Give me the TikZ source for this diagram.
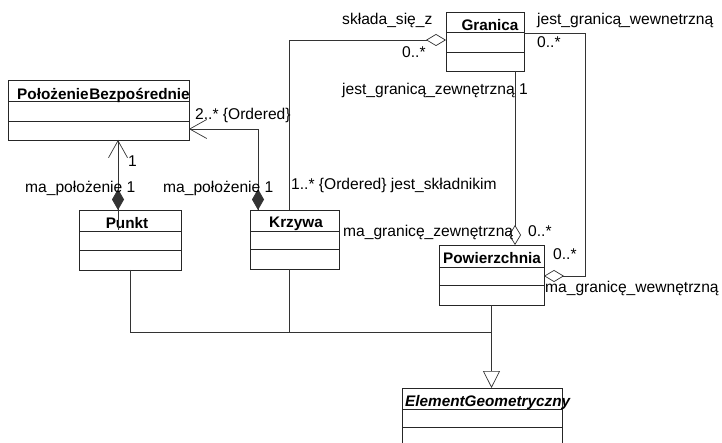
\documentclass[tikz,border=0pt]{standalone}
\usepackage{fontspec}
\setmainfont{Liberation Sans}
\usetikzlibrary{arrows.meta,calc}
\tikzset{
  cls/.style={draw=black!85, line width=0.8pt, inner sep=0pt, outer sep=0pt},
  sep/.style={draw=black!85, line width=0.8pt},
  conn/.style={draw=black!80, line width=0.7pt},
  lbl/.style={font=\fontsize{15.6}{17}\selectfont, inner sep=0pt, anchor=base west},
  ttl/.style={font=\bfseries\fontsize{15.3}{17}\selectfont, inner sep=0pt, anchor=base},
  comp/.style={{Diamond[length=21pt,width=12pt]}-},
  nav/.style={-{Straight Barb[length=17pt,width=19pt,line width=0.7pt]}},
  agg/.style={-{Diamond[open,length=20pt,width=12pt,line width=0.7pt]}},
  gen/.style={-{Triangle[open,length=17pt,width=17pt,line width=0.7pt]}}
}
\newcommand\umlclass[7]{%
  \pgfmathsetmacro\cw{#4-#2}\pgfmathsetmacro\ch{#5-#3}%
  \node[cls, minimum width=\cw pt, minimum height=\ch pt, anchor=north west] (#1) at (#2,#3) {};
  \draw[sep] (#2,#6) -- (#4,#6);
  \draw[sep] (#2,#7) -- (#4,#7);
}
\begin{document}
\begin{tikzpicture}[x=1pt,y=-1pt]
\useasboundingbox (0,0) rectangle (722,443);
% classes
\umlclass{pb}{8}{80}{189}{140}{101}{121}
\umlclass{granica}{446}{12}{524}{71}{32}{52}
\umlclass{punkt}{79}{210}{181}{270}{231}{250}
\umlclass{krzywa}{250}{210}{339}{269}{231}{249}
\umlclass{pow}{439}{245}{544}{305}{267}{285}
\umlclass{eg}{402}{388}{562}{445}{409}{427}
% titles
\node[ttl, anchor=base west] (tpb) at (17,99.5) {Położenie\kern0.8ptBezpośrednie};
\node[ttl] (tgr) at (490,30.5) {Granica};
\node[ttl] (tpu) at (127,228.5) {Punkt};
\node[ttl] (tkr) at (296,228) {Krzywa};
\node[ttl] (tpo) at (492,263.5) {Powierzchnia};
\node[ttl, font=\bfseries\itshape\fontsize{15.3}{17}\selectfont, anchor=base west] (teg) at (405,406) {ElementGeometryczny};
% connectors
\coordinate (pt) at ([xshift=39pt]punkt.north west);
\draw[conn, comp] (pt) -- (pt |- pb.south);
\draw[conn, nav] ([yshift=-20pt]pt) -- (pt |- pb.south);
\coordinate (kt) at ([xshift=8pt]krzywa.north west);
\coordinate (kbend) at (258,129);
\draw[conn, comp] (kt) -- (kbend);
\draw[conn, nav] (kt) -- (kbend) -- (kbend -| pb.east);
\coordinate (kg) at ([xshift=39pt]krzywa.north west);
\coordinate (gbend) at (289,40);
\draw[conn, agg] (kg) -- (gbend) -- (gbend -| granica.west);
\coordinate (gz) at ([xshift=-9pt]granica.south east);
\draw[conn, agg] (gz) -- (gz |- pow.north);
\coordinate (gw1) at (585,33);
\coordinate (gw2) at (585,276);
\draw[conn, agg] (gw1 -| granica.east) -- (gw1) -- (gw2) -- (gw2 -| pow.east);
\coordinate (gj) at (491.5,332);
\coordinate (kb) at ([xshift=39pt]krzywa.south west);
\draw[conn] (punkt.south) |- (gj);
\draw[conn] (kb) -- (kb |- gj);
\draw[conn, gen] (pow.south) -- (pow.south |- eg.north);
% labels
\node[lbl] (l1) at (25,193) {ma\_położenie 1};
\node[lbl] (l2) at (128,167) {1};
\node[lbl] (l3) at (195,120) {2..* \{Ordered\}};
\node[lbl] (l4) at (163,193) {ma\_położenie 1};
\node[lbl] (l5) at (291,190) {1..* \{Ordered\} jest\_składnikim};
\node[lbl] (l6) at (342,25) {składa\_się\_z};
\node[lbl] (l7) at (402,58) {0..*};
\node[lbl] (l8) at (537,25) {jest\_granicą\_wewnetrzną};
\node[lbl] (l9) at (537,48) {0..*};
\node[lbl] (l10) at (342,95) {jest\_granicą\_zewnętrzną 1};
\node[lbl] (l11) at (343,237) {ma\_granicę\_zewnętrzną};
\node[lbl] (l12) at (528,237) {0..*};
\node[lbl] (l13) at (553,260) {0..*};
\node[lbl] (l14) at (545,293) {ma\_granicę\_wewnętrzną};
\end{tikzpicture}
\end{document}
